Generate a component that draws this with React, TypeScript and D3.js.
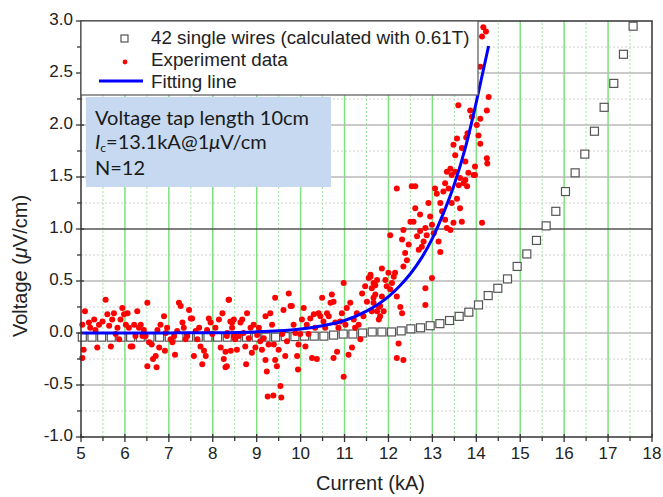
import * as d3 from 'd3';

// 42 single wires (calculated with 0.61T)
const wireCurrent = [5.03, 5.25, 5.47, 5.69, 5.91, 6.13, 6.35, 6.57, 6.79, 7.01, 7.23, 7.45, 7.67, 7.89, 8.11, 8.33, 8.55, 8.77, 8.99, 9.21, 9.43, 9.65, 9.87, 10.09, 10.31, 10.53, 10.75, 10.97, 11.19, 11.41, 11.63, 11.85, 12.07, 12.29, 12.51, 12.73, 12.95, 13.17, 13.39, 13.61, 13.83, 14.05, 14.27, 14.49, 14.71, 14.93, 15.15, 15.37, 15.59, 15.81, 16.03, 16.25, 16.47, 16.69, 16.91, 17.13, 17.35, 17.57];
const wireVoltage = [-0.04, -0.04, -0.04, -0.04, -0.04, -0.04, -0.04, -0.04, -0.04, -0.04, -0.04, -0.04, -0.04, -0.04, -0.04, -0.04, -0.04, -0.04, -0.04, -0.04, -0.04, -0.035, -0.035, -0.03, -0.03, -0.03, -0.02, -0.01, -0.01, 0.0, 0.01, 0.01, 0.01, 0.02, 0.04, 0.05, 0.07, 0.09, 0.12, 0.16, 0.2, 0.27, 0.36, 0.43, 0.52, 0.64, 0.76, 0.89, 1.03, 1.17, 1.36, 1.54, 1.72, 1.94, 2.17, 2.4, 2.68, 2.95];

// fitting line
const fitCurrent = [5, 6, 7, 8, 9, 9.5, 10, 10.5, 11, 11.5, 12, 12.25, 12.5, 12.75, 13, 13.25, 13.5, 13.75, 14, 14.15, 14.28];
const fitVoltage = [0.0, 0.0, 0.001, 0.003, 0.011, 0.021, 0.039, 0.07, 0.12, 0.21, 0.35, 0.45, 0.57, 0.72, 0.91, 1.15, 1.43, 1.78, 2.22, 2.51, 2.76];

// experiment data [current kA, voltage uV/cm]
const expLow: [number, number][] = [
  [5.09, 0.21], [5.03, 0.08], [5.06, -0.16], [5.03, -0.24], [5.18, 0.1], [5.21, 0.05], [5.3, 0.13], [5.33, 0.03], [5.37, -0.14], [5.41, 0.08],
  [5.49, 0.11], [5.56, 0.32], [5.6, 0.18], [5.64, 0.07], [5.68, -0.13], [5.71, 0.13], [5.75, 0.19], [5.79, -0.01], [5.83, 0.05], [5.87, -0.06],
  [5.9, 0.13], [5.94, 0.24], [5.98, 0.18], [6.02, 0.08], [6.06, 0.19], [6.09, 0.05], [6.13, -0.13], [6.17, -0.13], [6.21, 0.08], [6.24, -0.03],
  [6.28, 0.21], [6.32, 0.05], [6.36, 0.08], [6.4, -0.03], [6.43, 0.03], [6.47, -0.03], [6.51, 0.29], [6.51, -0.32], [6.55, -0.09], [6.61, -0.11],
  [6.64, -0.25], [6.7, -0.22], [6.72, -0.33], [6.74, 0.03], [6.78, -0.14], [6.81, 0.08], [6.89, 0.16], [6.91, -0.17], [6.93, 0.0], [6.96, 0.05],
  [7.04, -0.06], [7.08, -0.09], [7.12, -0.03], [7.14, -0.21], [7.19, 0.02], [7.23, 0.29], [7.27, 0.26], [7.31, 0.1], [7.34, 0.05], [7.38, -0.06],
  [7.42, -0.03], [7.46, 0.22], [7.5, 0.14], [7.53, 0.14], [7.57, -0.22], [7.61, 0.02], [7.65, -0.06], [7.69, 0.05], [7.72, -0.13], [7.76, -0.3],
  [7.8, -0.17], [7.84, -0.22], [7.87, 0.03], [7.91, 0.14], [7.95, 0.1], [7.99, -0.01], [8.06, 0.05], [8.14, 0.13], [8.18, -0.14], [8.22, 0.19],
  [8.25, -0.25], [8.29, -0.33], [8.33, 0.0], [8.37, 0.32], [8.41, -0.17], [8.44, 0.1], [8.48, -0.03],
];
const expMid: [number, number][] = [
  [8.36, 0.32], [8.32, -0.03], [8.29, -0.18], [8.32, -0.32], [8.4, 0.11], [8.44, 0.05], [8.48, 0.13], [8.51, -0.06], [8.55, -0.16], [8.59, -0.03],
  [8.63, 0.1], [8.67, 0.13], [8.7, 0.0], [8.74, -0.13], [8.76, -0.3], [8.78, 0.19], [8.82, -0.05], [8.86, 0.05], [8.89, -0.19], [8.93, 0.08],
  [8.97, -0.14], [9.01, -0.02], [9.05, 0.05], [9.08, -0.08], [9.12, -0.16], [9.16, -0.05], [9.2, 0.16], [9.2, -0.26], [9.23, -0.37], [9.27, -0.11],
  [9.31, 0.19], [9.35, 0.08], [9.39, -0.11], [9.42, 0.34], [9.42, -0.26], [9.46, -0.32], [9.5, -0.16], [9.54, -0.51], [9.25, -0.61], [9.38, -0.6],
  [9.56, -0.62], [9.58, -0.01], [9.61, 0.22], [9.65, -0.22], [9.69, -0.08], [9.73, 0.38], [9.77, 0.26], [9.8, 0.26], [9.84, 0.08], [9.88, 0.0],
  [9.92, -0.22], [9.94, -0.35], [9.95, -0.11], [9.99, -0.01], [10.03, 0.13], [10.07, 0.24], [10.11, -0.13], [10.14, 0.08], [10.18, -0.01], [10.22, 0.14],
  [10.26, -0.24], [10.3, 0.18], [10.33, 0.05], [10.37, -0.25], [10.41, 0.19], [10.45, 0.16], [10.49, 0.34], [10.52, 0.11], [10.56, 0.05], [10.6, 0.19],
  [10.64, 0.16], [10.68, 0.29], [10.71, 0.37], [10.75, -0.24], [10.75, 0.3], [10.79, 0.1], [10.83, -0.18], [10.86, 0.05], [10.9, 0.11], [10.94, 0.19],
  [10.98, -0.42], [10.98, 0.48], [11.02, 0.08], [11.05, 0.24], [11.09, -0.21], [11.13, 0.29], [11.17, -0.14], [11.21, 0.13], [11.24, 0.05], [11.28, 0.19],
  [11.32, 0.08], [11.36, -0.06], [11.4, 0.38], [11.43, 0.16], [11.47, 0.45], [11.51, 0.3], [11.55, 0.53], [11.59, 0.56], [11.62, 0.21], [11.66, 0.34],
  [11.7, 0.46], [11.74, 0.21], [11.78, 0.13], [11.81, 0.26], [11.85, 0.35],
];
const expHigh: [number, number][] = [
  [11.59, 0.54], [11.62, 0.43], [11.66, 0.48], [11.7, 0.37], [11.74, 0.51], [11.66, 0.29], [11.78, 0.25], [11.81, 0.16], [11.85, 0.62], [11.89, 0.21],
  [11.93, 0.51], [11.96, 0.45], [12.0, 0.58], [12.04, 0.94], [12.04, 0.42], [12.08, 0.48], [12.12, 0.54], [12.15, 0.58], [12.19, 1.39], [12.19, 0.35],
  [12.23, -0.1], [12.19, -0.24], [12.34, -0.26], [12.27, 0.25], [12.31, 0.19], [12.31, 0.9], [12.34, 0.64], [12.34, 0.99], [12.38, 0.77], [12.42, 0.7],
  [12.46, 0.85], [12.5, 1.07], [12.53, 1.41], [12.57, 1.07], [12.61, 1.41], [12.61, 1.2], [12.65, 0.93], [12.69, 0.8], [12.72, 1.14], [12.72, 0.98],
  [12.76, 0.83], [12.8, 0.88], [12.84, 0.27], [12.84, 0.43], [12.84, 1.01], [12.87, 0.94], [12.91, 1.25], [12.95, 1.12], [12.99, 0.53], [12.99, 1.04],
  [13.03, 0.96], [13.06, 1.39], [13.1, 1.34], [13.14, 0.88], [13.18, 1.25], [13.18, 0.78], [13.22, 1.17], [13.25, 1.36], [13.29, 1.44], [13.29, 1.09],
  [13.33, 1.01], [13.37, 1.39], [13.41, 0.99], [13.44, 1.25], [13.48, 1.06], [13.52, 1.55], [13.56, 1.29], [13.6, 1.42], [13.63, 1.2], [13.67, 1.07],
  [13.71, 1.44], [13.75, 1.47], [13.79, 1.41], [13.82, 1.54], [14.13, 1.06], [13.94, 1.52],
];
const expTop: [number, number][] = [
  [14.16, 2.94], [14.22, 2.9], [14.13, 2.85], [14.09, 2.56], [13.59, 2.19], [14.28, 2.27], [14.24, 2.14], [13.86, 2.14], [13.9, 2.08], [14.09, 2.06],
  [14.01, 2.0], [13.8, 1.92], [13.77, 1.88], [14.05, 1.9], [14.09, 1.82], [13.56, 1.87], [13.48, 1.81], [13.67, 1.78], [13.52, 1.71], [14.24, 1.68],
  [14.25, 1.63], [13.97, 1.6], [13.75, 1.65], [13.41, 1.58], [13.33, 1.55], [13.44, 1.52], [13.63, 1.49], [13.97, 1.52],
];

const xTicks = [5, 6, 7, 8, 9, 10, 11, 12, 13, 14, 15, 16, 17, 18];
const yTicks = [-1.0, -0.5, 0.0, 0.5, 1.0, 1.5, 2.0, 2.5, 3.0];
const legendLabels = ['42 single wires (calculated with 0.61T)', 'Experiment data', 'Fitting line'];

const W = 663;
const H = 497;
const AXIS_FONT = '"Liberation Sans", Arial, sans-serif';
const BOX_FONT = 'Lato, "Open Sans", sans-serif';

export default function App() {
  const x = d3.scaleLinear().domain([5, 18]).range([81, 652]);
  const y = d3.scaleLinear().domain([-1, 3]).range([437, 21]);

  const xMinor = d3.range(5.5, 18, 1);
  const yMinor = d3.range(-0.75, 3, 0.5);

  const expData = [...expLow, ...expMid, ...expHigh, ...expTop];

  const fitLine = d3.line<number>()
    .x((d, i) => x(fitCurrent[i]))
    .y(d => y(d))
    .curve(d3.curveMonotoneX);

  const [x0, x1] = x.range();
  const [y0, y1] = y.range();

  return (
    <svg width={W} height={H} style={{ position: 'absolute', left: 0, top: 0, background: '#fff' }}>
      {/* minor grid */}
      {xMinor.map(t => (
        <line key={'xm' + t} x1={x(t)} x2={x(t)} y1={y0} y2={y1} stroke="#9be89b" strokeWidth={1} strokeDasharray="2,2" />
      ))}
      {yMinor.map(t => (
        <line key={'ym' + t} x1={x0} x2={x1} y1={y(t)} y2={y(t)} stroke="#cfcfcf" strokeWidth={1} strokeDasharray="2,2" />
      ))}
      {/* major grid */}
      {xTicks.slice(1, -1).map(t => (
        <line key={'xg' + t} x1={x(t)} x2={x(t)} y1={y0} y2={y1} stroke="#7ee07e" strokeWidth={1.5} />
      ))}
      {yTicks.slice(1, -1).map(t => (
        <line key={'yg' + t} x1={x0} x2={x1} y1={y(t)} y2={y(t)} stroke={t === 1 ? '#555' : '#b8b8b8'} strokeWidth={1.5} />
      ))}

      {/* 42 single wires */}
      {wireCurrent.map((c, i) => (
        <rect key={'w' + i} x={x(c) - 4} y={y(wireVoltage[i]) - 4} width={8} height={8} fill="#fff" stroke="#555" strokeWidth={1.2} />
      ))}

      {/* experiment data */}
      {expData.map((d, i) => (
        <circle key={'e' + i} cx={x(d[0])} cy={y(d[1])} r={3} fill="#ff0000" />
      ))}

      {/* fitting line */}
      <path d={fitLine(fitVoltage) || ''} fill="none" stroke="#0000ff" strokeWidth={3} />

      {/* frame */}
      <rect x={x0} y={y1} width={x1 - x0} height={y0 - y1} fill="none" stroke="#333" strokeWidth={1.5} />

      {/* x axis ticks */}
      {xTicks.map(t => (
        <g key={'xt' + t}>
          <line x1={x(t)} x2={x(t)} y1={y0 - 3} y2={y0 + 5} stroke="#333" strokeWidth={1.3} />
          <text x={x(t)} y={y0 + 18} textAnchor="middle" dominantBaseline="middle" fontFamily={AXIS_FONT} fontSize={17} fill="#222">{t}</text>
        </g>
      ))}
      {xMinor.map(t => (
        <line key={'xmt' + t} x1={x(t)} x2={x(t)} y1={y0} y2={y0 + 4} stroke="#333" strokeWidth={1.3} />
      ))}
      {/* y axis ticks */}
      {yTicks.map(t => (
        <g key={'yt' + t}>
          <line x1={x0 - 5} x2={x0 + 3} y1={y(t)} y2={y(t)} stroke="#333" strokeWidth={1.3} />
          <text x={x0 - 8} y={y(t)} textAnchor="end" dominantBaseline="middle" fontFamily={AXIS_FONT} fontSize={17} fill="#222">{t.toFixed(1)}</text>
        </g>
      ))}
      {yMinor.map(t => (
        <line key={'ymt' + t} x1={x0 - 4} x2={x0} y1={y(t)} y2={y(t)} stroke="#333" strokeWidth={1.3} />
      ))}

      {/* axis titles */}
      <text x={(x0 + x1) / 2 + 4} y={490} textAnchor="middle" fontFamily={AXIS_FONT} fontSize={20} fill="#222">Current (kA)</text>
      <text transform={`translate(27, ${(y0 + y1) / 2 + 37}) rotate(-90)`} textAnchor="middle" fontFamily={AXIS_FONT} fontSize={20} fill="#222">
        Voltage (<tspan fontStyle="italic">μ</tspan>V/cm)
      </text>

      {/* legend */}
      <g>
        <rect x={x0} y={y1} width={397} height={74} fill="#fff" stroke="#555" strokeWidth={1.2} />
        <rect x={121} y={35} width={7} height={7} fill="#fff" stroke="#444" strokeWidth={1.1} />
        <circle cx={125} cy={62} r={2.4} fill="#ff0000" />
        <line x1={99} x2={143} y1={81} y2={81} stroke="#0000ff" strokeWidth={3} />
        {legendLabels.map((s, i) => (
          <text key={s} x={151} y={39 + i * 22} dominantBaseline="middle" fontFamily={AXIS_FONT} fontSize={18.8} fill="#222">{s}</text>
        ))}
      </g>

      {/* annotation box */}
      <g>
        <rect x={86} y={97} width={245} height={90} fill="#c6d9f0" />
        <text x={95} y={125} fontFamily={BOX_FONT} fontSize={20} fill="#1a1a1a">Voltage tap length 10cm</text>
        <text x={95} y={149} fontFamily={BOX_FONT} fontSize={20} fill="#1a1a1a">
          <tspan fontStyle="italic">I</tspan><tspan fontSize={12} dy={3}>c</tspan><tspan dy={-3}>=13.1kA@1</tspan><tspan fontStyle="italic">μ</tspan>V/cm
        </text>
        <text x={95} y={175} fontFamily={BOX_FONT} fontSize={20} fill="#1a1a1a">N=12</text>
      </g>
    </svg>
  );
}
